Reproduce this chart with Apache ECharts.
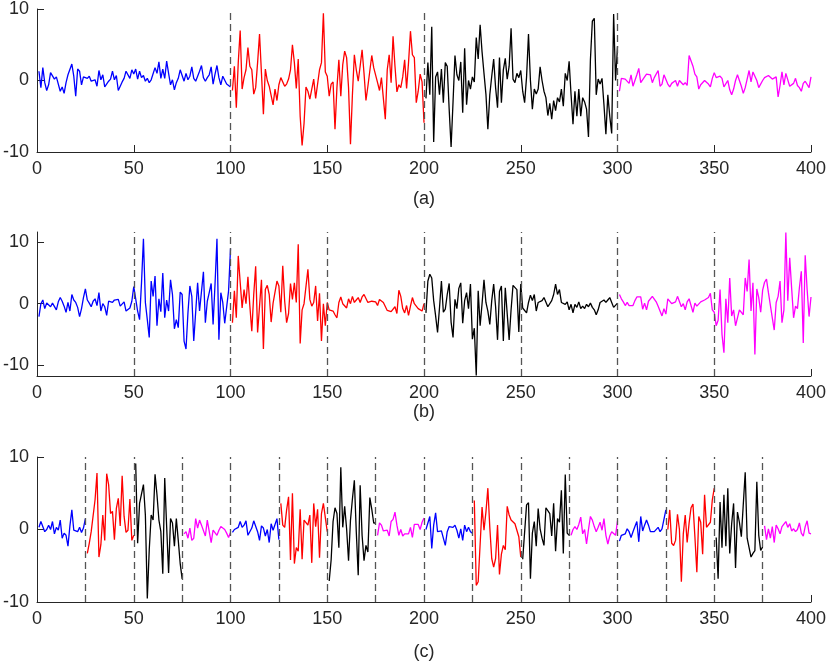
<!DOCTYPE html>
<html>
<head>
<meta charset="utf-8">
<script src="https://cdn.jsdelivr.net/npm/echarts@6/dist/echarts.min.js"></script>
<style>
html, body { margin: 0; padding: 0; background: #fff; }
#chart { width: 830px; height: 663px; }
</style>
</head>
<body>
<div id="chart"></div>
<script>
// tick labels
const xTicks = [0, 50, 100, 150, 200, 250, 300, 350, 400];
const yTicks = [-10, 0, 10];
const panelNames = ['(a)', '(b)', '(c)'];
// dashed separators per panel
const splitsA = [100, 200, 300];
const splitsB = [50, 100, 150, 200, 250, 300, 350];
const splitsC = [25, 50, 75, 100, 125, 150, 175, 200, 225, 250, 275, 300, 325, 350, 375];

// panel (a): one block of 100 samples per colour
const aBlue = [1.3,-1.0,1.8,-0.3,-1.4,-0.6,1.1,1.2,0.2,0.5,
  0.7,-1.5,-0.9,-1.8,-0.3,0.8,0.9,2.3,0.6,-2.2,
  1.6,1.3,-0.6,0.5,0.7,0.3,0.6,-0.1,0.0,0.1,
  -0.8,1.4,0.1,0.8,-0.9,-0.9,-0.1,0.2,1.3,0.1,
  0.7,-1.4,-0.8,-0.2,0.3,1.3,1.2,0.3,1.5,0.9,
  1.6,0.2,1.3,0.4,0.7,-0.1,0.3,-0.3,0.1,-0.1,
  1.8,1.0,2.6,0.3,1.6,0.3,2.7,1.0,-0.6,0.1,
  -1.3,-0.3,0.3,1.5,1.3,-0.1,1.0,0.1,0.6,1.9,
  0.3,-0.1,0.6,1.3,2.1,0.4,-0.1,0.4,0.8,1.9,
  -0.5,0.9,2.1,0.4,-0.6,0.6,0.4,-0.5,-0.3,-0.9];
const aRed = [-1.4,2.0,-3.8,2.5,7.0,-1.2,0.4,1.5,4.6,2.0,
  1.5,-1.9,-1.0,2.5,6.5,1.0,-4.7,1.6,0.0,-0.8,
  -0.9,-3.4,-1.2,-2.8,-0.6,0.4,0.6,-0.8,-0.5,0.2,
  1.5,5.0,2.5,-1.1,3.0,-5.0,-9.1,-6.0,-0.9,-1.5,
  -2.6,-2.8,0.2,-2.5,-2.5,1.5,2.5,9.4,1.2,0.6,
  -2.2,-0.5,-0.2,-6.8,-1.0,2.9,-2.2,2.2,4.1,3.2,
  -1.0,-8.9,-2.0,3.6,1.5,-0.1,2.0,4.3,1.0,-2.8,
  -0.8,-0.8,3.5,1.8,1.9,-0.3,-1.4,0.4,0.6,-5.4,
  1.5,3.6,-0.3,6.2,2.0,-1.6,-0.6,-1.0,0.5,2.9,
  -1.1,2.5,6.9,3.6,3.2,-3.1,-1.5,0.9,-0.2,-5.9];
const aBlack = [-2.5,2.5,-2.0,7.5,-8.6,0.5,1.2,-2.0,1.6,-3.1,
  2.5,2.0,-4.0,-9.3,-3.0,3.5,0.8,0.0,2.6,-4.5,
  4.5,-3.4,0.0,-1.2,0.5,-0.2,6.0,3.0,7.8,4.0,
  1.0,-1.9,-6.8,-2.0,0.6,3.0,-1.0,-3.8,3.2,-3.1,
  1.5,3.1,0.2,2.0,7.3,0.2,-0.3,1.0,0.4,1.4,
  -1.5,-3.1,0.5,6.5,0.0,-4.0,-1.2,-1.9,-1.2,1.9,
  0.0,-1.5,-2.4,-4.9,-3.2,-5.4,-2.8,-4.2,-2.4,-3.0,
  -1.2,-3.6,1.0,0.0,2.7,-2.0,-6.1,-1.5,-5.0,-1.2,
  -5.0,-2.4,-3.0,-4.0,-7.9,2.9,8.3,8.7,-2.0,0.2,
  -0.5,0.3,-3.4,-7.5,-2.0,-5.0,-7.4,9.3,0.0,4.8];
const aMagenta = [-1.5,0.3,0.5,0.2,0.2,-0.4,0.8,-0.8,-0.7,0.8,
  1.7,-0.3,-0.4,0.5,0.9,1.1,0.8,-0.3,0.4,0.2,
  1.4,-0.8,-0.5,0.8,0.9,-0.5,-0.9,-0.4,-0.2,0.0,
  -0.8,0.0,-0.2,-0.6,-0.3,-0.7,3.5,3.4,2.0,0.9,
  0.5,-1.2,-0.6,-0.7,0.0,0.0,-0.5,-0.9,0.3,1.1,
  0.4,0.3,0.6,0.3,-0.9,-1.0,0.0,-1.3,-2.0,-1.2,
  0.0,0.8,0.0,-0.8,-1.8,-1.0,0.2,1.4,-0.2,1.2,
  1.0,0.0,-1.0,-0.8,0.0,0.4,0.6,0.7,0.7,0.2,
  0.0,0.5,-2.3,-0.7,1.2,-0.6,1.0,1.2,-0.8,-1.0,
  -0.4,0.3,-0.7,-1.0,-1.5,-0.4,-0.1,-0.2,-1.0,0.5];

// panel (b)
const bBlue = [-2.1,0.0,0.6,-0.8,0.1,-0.2,-0.5,0.1,0.4,-1.0,
  0.3,1.0,0.4,-0.4,-1.4,0.2,-1.2,1.5,0.6,0.2,
  -0.6,-2.1,-0.8,1.0,2.4,0.6,0.1,-0.5,0.4,0.8,
  -0.3,1.8,-1.2,0.0,-0.5,-1.9,0.4,0.1,0.2,0.6,
  0.9,0.7,-0.4,-0.3,0.3,-1.2,-1.0,-0.7,0.4,2.8,
  3.0,-1.2,-2.6,3.4,10.6,0.2,-2.6,-5.5,3.7,1.2,
  4.5,-3.6,0.8,-1.3,5.0,-2.3,0.6,-1.2,3.9,1.5,
  -4.1,-2.6,-3.9,1.9,1.5,-6.1,-7.4,-1.5,2.9,1.2,
  -6.1,-6.1,3.4,-1.2,-1.4,5.2,-3.1,0.4,1.8,3.3,
  -3.4,3.2,10.6,-5.9,1.8,0.2,-3.2,-3.2,2.1,9.0];
const bRed = [-3.1,2.1,-2.3,7.8,3.5,-0.7,2.3,0.0,4.4,-0.4,
  -4.5,1.5,6.1,-4.7,-0.4,3.9,-7.4,2.3,3.0,1.5,
  -3.0,0.1,0.4,3.7,2.9,-1.4,6.2,0.4,-3.1,-1.6,
  3.3,0.7,3.4,0.2,9.7,-6.5,-1.0,0.0,0.3,5.6,
  0.7,-0.4,0.2,2.9,-2.8,1.7,-6.1,0.0,-3.6,0.2,
  -1.0,-1.0,-1.2,-1.8,-2.3,0.2,1.1,0.0,0.0,-0.7,
  0.8,0.0,1.2,0.2,0.6,1.0,0.2,1.1,1.5,1.7,
  0.2,0.2,0.4,0.6,0.3,-0.3,0.7,1.0,0.2,0.3,
  -1.1,-1.2,-1.3,-1.0,-0.5,-1.6,2.2,1.2,-0.8,-1.5,
  -0.3,-1.9,-0.4,1.0,0.0,0.0,-0.8,-0.6,-1.2,0.0];
const bBlack = [-1.5,3.7,4.8,4.2,0.5,-2.0,-4.7,-0.7,3.7,-1.4,
  -0.9,1.5,3.3,-3.0,-5.5,0.7,-0.8,2.5,3.4,-3.2,
  0.5,1.8,-0.8,3.2,-5.8,-4.0,-11.7,2.1,-3.6,0.0,
  3.9,0.2,-1.2,-3.4,0.5,3.2,-0.5,-5.9,2.0,2.9,
  -6.1,2.6,2.6,-5.9,-1.0,3.0,2.8,2.3,-4.6,3.2,
  -0.7,-1.0,-1.5,0.2,1.4,0.5,1.5,-1.2,0.2,0.0,
  0.5,1.0,0.7,-0.5,-0.2,0.5,1.5,3.2,1.5,2.3,
  0.2,0.5,-0.1,0.3,-1.0,-0.1,-1.5,-0.1,-0.6,0.3,
  -0.8,-0.4,-0.8,-0.1,-0.5,0.1,-0.6,-1.0,-1.8,-1.0,
  0.2,0.0,0.6,0.2,0.6,1.0,0.2,-0.6,-0.5,0.1];
const bMagenta = [1.5,0.8,0.3,-0.3,0.2,-0.3,-0.5,-0.3,0.5,1.1,
  0.8,1.1,-0.9,0.1,-1.0,0.4,0.3,1.2,1.0,0.3,
  -0.4,-0.6,-2.0,-0.8,-1.7,0.8,0.8,0.0,-0.3,0.3,
  1.2,1.0,-0.5,0.0,-1.0,0.3,0.8,0.6,-1.4,0.1,
  -0.4,-0.7,0.3,0.4,0.6,0.8,1.0,1.7,-1.0,-1.4,
  -3.6,-2.7,2.3,-5.0,-8.0,0.8,-3.1,4.2,-2.0,-1.0,
  -3.6,-2.3,-1.0,-1.2,-1.8,4.2,2.0,7.2,-1.2,3.4,
  -8.3,2.4,1.0,-1.4,2.2,3.5,4.0,1.8,2.0,-2.3,
  -4.3,0.2,1.2,3.7,-3.1,-1.0,11.6,0.5,7.5,2.5,
  -2.3,-0.4,-0.8,2.6,5.3,-6.4,7.9,2.3,-2.1,1.1];

// panel (c): four blocks of 25 samples per colour, in time order
const cBlue = [0.3,1.1,1.0,-0.3,0.0,0.6,0.0,1.1,-0.6,0.3,-0.1,1.3,-1.2,-0.5,-0.8,-2.3,0.5,2.7,-0.1,0.0,-0.3,0.3,-0.4,0.2,1.5,
  -0.4,0.0,0.0,0.3,1.1,0.3,0.6,1.2,-0.8,-0.8,0.2,1.2,1.3,-0.3,-1.5,0.5,0.2,-0.9,0.0,-1.8,0.8,-0.1,0.7,1.5,-1.4,
  0.0,0.2,1.8,-2.6,0.6,2.3,-0.3,-0.5,-0.2,-1.2,-2.2,-0.3,0.4,0.4,0.3,0.6,-0.1,-1.2,0.1,-1.5,0.6,-0.3,0.3,-0.3,-0.5,
  -1.6,-0.8,-0.6,-0.6,0.1,-0.3,-1.1,-0.3,0.4,1.1,-1.7,1.8,-0.2,0.6,1.3,0.6,-0.3,-0.5,-0.3,-0.1,0.3,-0.3,0.1,0.3,2.7];
const cRed = [-3.3,-1.9,-0.3,-0.3,4.1,7.8,-3.8,-2.1,2.0,-1.5,7.7,6.2,2.2,2.5,-1.4,2.9,4.3,0.5,7.4,1.8,-0.4,-0.1,4.2,-1.5,-0.8,
  3.6,0.6,0.3,2.7,4.5,-4.2,5.0,-4.7,-2.5,-3.0,2.8,-4.1,1.3,1.5,0.6,2.0,-4.6,3.6,0.4,2.8,-3.9,2.2,3.6,3.8,-0.3,
  4.0,-7.7,-7.2,-7.0,3.1,-0.1,2.4,5.7,0.3,-4.0,-5.2,-4.0,0.6,-6.2,-3.4,-2.2,-2.8,3.2,2.0,1.3,1.5,0.8,1.0,-1.0,-3.8,
  0.0,2.7,-1.9,-2.2,-1.5,2.1,0.0,-7.2,-0.6,2.0,-1.8,0.9,3.0,3.5,-1.0,-5.9,1.8,1.0,-3.4,4.8,0.3,0.3,1.0,4.1,5.7];
const cBlack = [9.1,-1.9,3.6,3.4,6.2,2.0,-9.5,-2.8,2.0,1.3,7.6,4.8,1.3,-0.3,-6.1,7.1,0.4,-6.0,1.5,0.9,-2.3,1.5,-1.5,-4.7,-6.8,
  -7.1,-4.2,1.1,3.0,2.2,-2.5,8.6,0.3,3.2,0.1,-4.3,1.3,4.2,6.8,-0.3,-6.3,6.1,-0.8,-4.3,-2.2,-3.1,4.4,2.8,0.9,0.9,
  -4.1,-4.1,3.4,3.7,-6.8,-0.5,1.1,-2.3,2.9,0.1,-1.2,-2.2,3.0,3.2,2.2,-0.9,3.6,-3.0,1.5,1.0,5.4,-3.3,7.6,-0.5,-0.8,
  -1.1,-6.8,3.8,-2.5,4.8,-2.3,5.7,-3.3,0.8,3.6,-5.3,2.4,1.0,-1.0,-1.2,7.9,-1.2,-1.4,-3.8,-3.3,-2.9,6.6,-0.8,-2.9,-2.4];
const cMagenta = [-0.6,-0.3,-1.2,0.2,-1.5,-1.2,1.5,0.2,1.3,0.6,0.8,-0.9,1.3,1.2,-1.8,-0.1,-0.2,-0.8,-0.1,0.4,0.5,0.0,-0.5,-1.1,-0.4,
  -0.8,0.9,0.6,-0.2,-0.1,-0.1,-0.9,1.1,1.4,2.4,0.6,-0.8,0.0,-0.9,-0.6,-0.6,-0.6,0.3,-1.1,0.7,0.9,0.7,0.0,1.0,1.6,
  -0.8,0.0,0.4,0.0,0.7,1.7,-0.6,0.0,-2.0,0.0,1.8,1.3,0.4,-0.3,0.3,1.0,-0.1,1.5,-0.8,-2.0,-0.9,-0.3,-0.3,-0.8,1.2,
  0.5,-1.4,0.1,-1.2,0.4,-1.8,0.6,0.1,-0.6,0.4,0.3,1.1,0.3,0.8,-0.2,0.1,-0.3,0.0,0.9,-0.5,-0.9,0.4,1.2,-0.5,-0.6];

const colors = ['#0000ff', '#ff0000', '#000000', '#ff00ff'];
const axisColor = '#262626';
const font = 'Liberation Sans, Arial, Helvetica, sans-serif';

const panels = [
    { values: [aBlue, aRed, aBlack, aMagenta], seg: 100, splits: splitsA, top: 7, height: 145, min: -10, max: 10, gap: 38 },
    { values: [bBlue, bRed, bBlack, bMagenta], seg: 100, splits: splitsB, top: 232, height: 144, min: -11.8, max: 11.7, gap: 20 },
    { values: [cBlue, cRed, cBlack, cMagenta], seg: 25, splits: splitsC, top: 457, height: 145, min: -10, max: 10, gap: 41 }
];

const grid = [], xAxis = [], yAxis = [], series = [];

panels.forEach((p, i) => {
    grid.push({ left: 35, right: 19, top: p.top, height: p.height, containLabel: false });
    xAxis.push({
        type: 'value', gridIndex: i, min: 0, max: 400,
        name: panelNames[i], nameLocation: 'middle', nameGap: p.gap,
        nameTextStyle: { color: axisColor, fontSize: 18, fontFamily: font },
        axisLine: { show: true, onZero: false, lineStyle: { color: axisColor, width: 1 } },
        axisTick: { show: true, inside: true, length: 7, customValues: xTicks, lineStyle: { color: axisColor } },
        axisLabel: { customValues: xTicks, color: axisColor, fontSize: 18, fontFamily: font, margin: 8 },
        splitLine: { show: false }
    });
    yAxis.push({
        type: 'value', gridIndex: i, min: p.min, max: p.max,
        axisLine: { show: true, onZero: false, lineStyle: { color: axisColor, width: 1 } },
        axisTick: { show: true, inside: true, length: 7, customValues: yTicks, lineStyle: { color: axisColor } },
        axisLabel: { customValues: yTicks, color: axisColor, fontSize: 18, fontFamily: font, margin: 8 },
        splitLine: { show: false }
    });
    // dashed separators
    series.push({
        type: 'line', xAxisIndex: i, yAxisIndex: i, data: [], z: 1, silent: true,
        markLine: {
            silent: true, symbol: 'none', label: { show: false },
            lineStyle: { color: '#555555', type: [7, 4], width: 1.3 },
            data: p.splits.map(v => ({ xAxis: v }))
        }
    });
    p.values.forEach((vals, c) => {
        const blocks = vals.length / p.seg;
        for (let k = 0; k < blocks; k++) {
            const start = (k * 4 + c) * p.seg;
            series.push({
                type: 'line', xAxisIndex: i, yAxisIndex: i, z: 2,
                showSymbol: false, silent: true,
                lineStyle: { color: colors[c], width: 1.3 },
                itemStyle: { color: colors[c] },
                data: vals.slice(k * p.seg, (k + 1) * p.seg).map((v, j) => [start + j + 1, v])
            });
        }
    });
});

const chart = echarts.init(document.getElementById('chart'));
chart.setOption({
    animation: false,
    backgroundColor: '#fff',
    grid: grid,
    xAxis: xAxis,
    yAxis: yAxis,
    series: series
});
</script>
</body>
</html>
